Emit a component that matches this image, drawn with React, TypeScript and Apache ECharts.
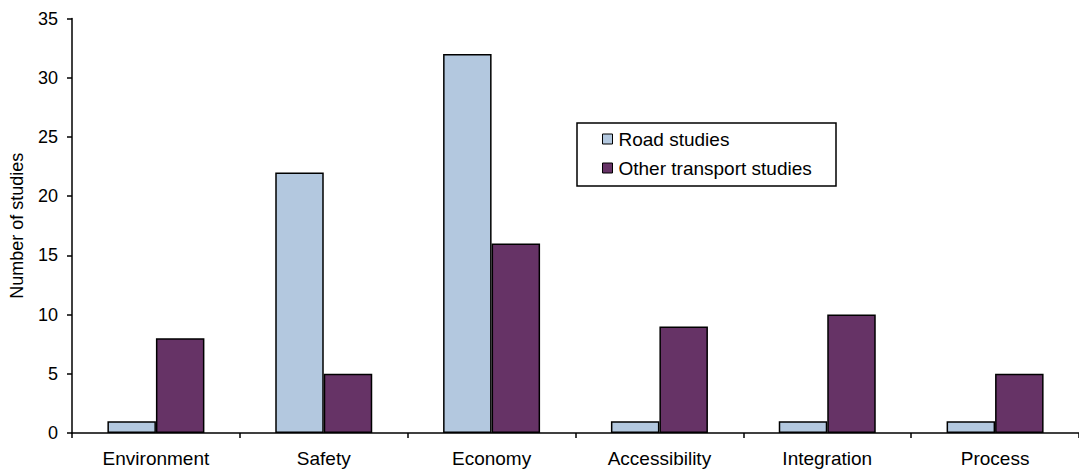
import React, { useEffect, useRef } from "react";
import * as echarts from "echarts";

// Studies per assessment theme, by transport mode
const categories = ["Environment", "Safety", "Economy", "Accessibility", "Integration", "Process"];
const roadStudies = [1, 22, 32, 1, 1, 1];
const otherTransportStudies = [8, 5, 16, 9, 10, 5];
const seriesNames = ["Road studies", "Other transport studies"];
const yAxisTitle = "Number of studies";

const FONT = "'Liberation Sans', Arial, Helvetica, sans-serif";
const ROAD_COLOR = "#B3C8DF";
const OTHER_COLOR = "#663366";

export default function App() {
  const ref = useRef<HTMLDivElement>(null);

  useEffect(() => {
    if (!ref.current) return;
    const chart = echarts.init(ref.current, undefined, { renderer: "svg" });
    const barStyle = (color: string) => ({
      color,
      borderColor: "#000",
      borderWidth: 1.5,
    });
    chart.setOption({
      animation: false,
      backgroundColor: "#fff",
      textStyle: { fontFamily: FONT },
      grid: { left: 72, top: 18.5, width: 1011, height: 414.5, containLabel: false },
      legend: {
        orient: "vertical",
        left: 602,
        top: 129,
        padding: 0,
        itemWidth: 10,
        itemHeight: 10,
        itemGap: 9,
        icon: "rect",
        selectedMode: false,
        textStyle: { fontFamily: FONT, fontSize: 19, color: "#000", lineHeight: 20, padding: [0, 0, 0, 1] },
        data: seriesNames.map((name) => ({ name, itemStyle: { borderColor: "#000", borderWidth: 1 } })),
      },
      graphic: [
        {
          type: "rect",
          shape: { x: 577, y: 123, width: 259, height: 63 },
          style: { fill: "none", stroke: "#000", lineWidth: 1.5 },
          z: 100,
        },
      ],
      xAxis: {
        type: "category",
        data: categories,
        axisLine: { lineStyle: { color: "#000", width: 1.5 } },
        axisTick: { show: true, length: 5, lineStyle: { color: "#000", width: 1.5 } },
        axisLabel: { fontFamily: FONT, fontSize: 19, color: "#000", margin: 16 },
        splitLine: { show: false },
      },
      yAxis: {
        type: "value",
        min: 0,
        max: 35,
        interval: 5,
        name: yAxisTitle,
        nameLocation: "middle",
        nameRotate: 90,
        nameGap: 46,
        nameTextStyle: { fontFamily: FONT, fontSize: 18, color: "#000" },
        axisLine: { show: true, lineStyle: { color: "#000", width: 1.5 } },
        axisTick: { show: true, length: 5, lineStyle: { color: "#000", width: 1.5 } },
        axisLabel: { fontFamily: FONT, fontSize: 18, color: "#000", margin: 14 },
        splitLine: { show: false },
      },
      series: [
        {
          name: seriesNames[0],
          type: "bar",
          data: roadStudies,
          barWidth: 48.5,
          barGap: "0%",
          itemStyle: barStyle(ROAD_COLOR),
        },
        {
          name: seriesNames[1],
          type: "bar",
          data: otherTransportStudies,
          barWidth: 48.5,
          barGap: "0%",
          itemStyle: barStyle(OTHER_COLOR),
        },
      ],
    });
    return () => chart.dispose();
  }, []);

  return (
    <div
      ref={ref}
      style={{ position: "fixed", left: 0, top: 0, width: 1079, height: 470, background: "#fff" }}
    />
  );
}
